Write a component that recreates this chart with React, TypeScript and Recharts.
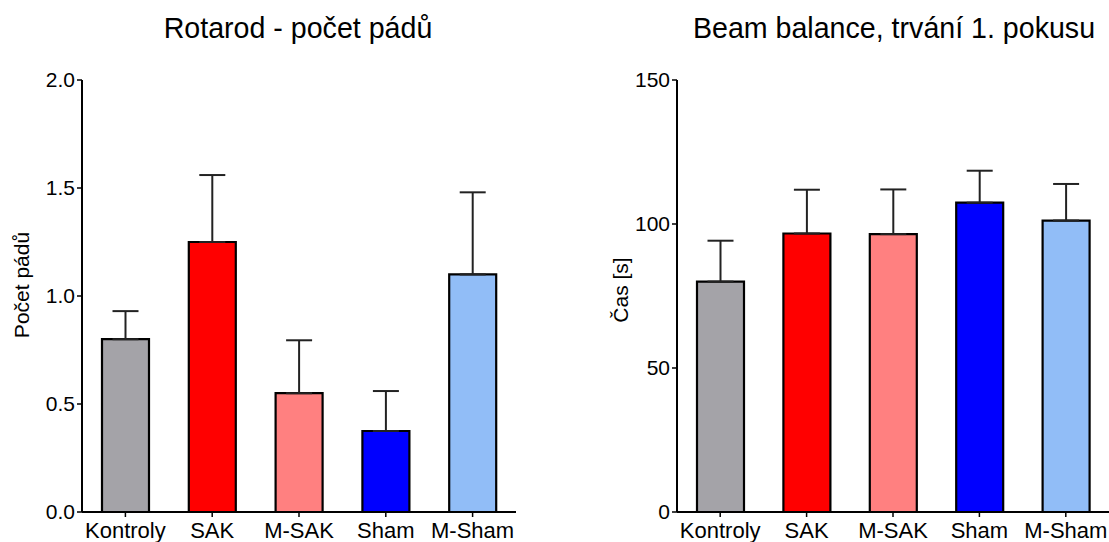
import React from "react";
import { BarChart, Bar, XAxis, YAxis, Cell, ErrorBar } from "recharts";

// Groups and their fill colours (same order in both panels)
const groups = ["Kontroly", "SAK", "M-SAK", "Sham", "M-Sham"];
const groupColors = ["#a4a3a8", "#ff0000", "#ff8080", "#0000ff", "#91bdf7"];

// Rotarod: mean number of falls and SEM
const rotarodMean = [0.8, 1.25, 0.55, 0.375, 1.1];
const rotarodSem = [0.13, 0.31, 0.245, 0.185, 0.38];
const rotarodTicks = [0, 0.5, 1, 1.5, 2];

// Beam balance: mean duration of first attempt [s] and SEM
const beamMean = [80, 96.7, 96.5, 107.4, 101.2];
const beamSem = [14.2, 15.2, 15.5, 11.1, 12.7];
const beamTicks = [0, 50, 100, 150];

const FONT = '"Liberation Sans", Arial, Helvetica, sans-serif';

const toRows = (means: number[], sems: number[]) =>
  groups.map((g, i) => ({ name: g, mean: means[i], err: [0, sems[i]] }));

const rotarodRows = toRows(rotarodMean, rotarodSem);
const beamRows = toRows(beamMean, beamSem);

// rotated axis title at fixed chart coordinates (baseline x, centre y)
const axisTitle = (text: string, x: number, y: number) => () =>
  (
    <text
      x={x}
      y={y}
      transform={`rotate(-90 ${x} ${y})`}
      textAnchor="middle"
      fontSize={21}
      fontFamily={FONT}
      fill="#000"
    >
      {text}
    </text>
  );

type PanelProps = {
  rows: { name: string; mean: number; err: number[] }[];
  width: number;
  marginLeft: number;
  domain: [number, number];
  ticks: number[];
  fmt: (v: number) => string;
  yTitle: string;
  titleX: number;
  titleY: number;
};

function Panel({ rows, width, marginLeft, domain, ticks, fmt, yTitle, titleX, titleY }: PanelProps) {
  return (
    <BarChart
      width={width}
      height={542}
      data={rows}
      margin={{ top: 80, right: 0, bottom: 0, left: marginLeft }}
      barCategoryGap={0}
    >
      <XAxis
        dataKey="name"
        height={30}
        axisLine={{ stroke: "#000", strokeWidth: 2 }}
        tickLine={{ stroke: "#000", strokeWidth: 1.5 }}
        tickSize={5}
        tickMargin={5}
        interval={0}
        tick={{ fill: "#000", fontSize: 22, fontFamily: FONT }}
      />
      <YAxis
        width={60}
        domain={domain}
        ticks={ticks}
        tickFormatter={fmt}
        axisLine={{ stroke: "#000", strokeWidth: 2 }}
        tickLine={{ stroke: "#000", strokeWidth: 1.5 }}
        tickSize={5}
        tickMargin={2}
        tick={{ fill: "#000", fontSize: 21, fontFamily: FONT }}
        label={axisTitle(yTitle, titleX, titleY)}
      />
      <Bar dataKey="mean" barSize={47} stroke="#000" strokeWidth={2.2} isAnimationActive={false}>
        {rows.map((r, i) => (
          <Cell key={r.name} fill={groupColors[i]} />
        ))}
        <ErrorBar dataKey="err" direction="y" width={13} stroke="#222" strokeWidth={2} isAnimationActive={false} />
      </Bar>
    </BarChart>
  );
}

const titleStyle: React.CSSProperties = {
  position: "absolute",
  top: 14,
  width: 500,
  textAlign: "center",
  fontFamily: FONT,
  fontSize: 28.6,
  lineHeight: "28px",
  color: "#000",
  whiteSpace: "nowrap",
};

export default function App() {
  return (
    <div style={{ position: "absolute", left: 0, top: 0, width: 1109, height: 542, background: "#fff" }}>
      <div style={{ ...titleStyle, left: 298 - 250 }}>Rotarod - počet pádů</div>
      <div style={{ ...titleStyle, left: 894 - 250 }}>Beam balance, trvání 1. pokusu</div>

      <div style={{ position: "absolute", left: 0, top: 0 }}>
        <Panel
          rows={rotarodRows}
          width={516}
          marginLeft={22}
          domain={[0, 2]}
          ticks={rotarodTicks}
          fmt={(v) => v.toFixed(1)}
          yTitle="Počet pádů"
          titleX={29}
          titleY={285}
        />
      </div>
      <div style={{ position: "absolute", left: 560, top: 0 }}>
        <Panel
          rows={beamRows}
          width={549}
          marginLeft={57}
          domain={[0, 150]}
          ticks={beamTicks}
          fmt={(v) => String(v)}
          yTitle="Čas [s]"
          titleX={68}
          titleY={290}
        />
      </div>
    </div>
  );
}
